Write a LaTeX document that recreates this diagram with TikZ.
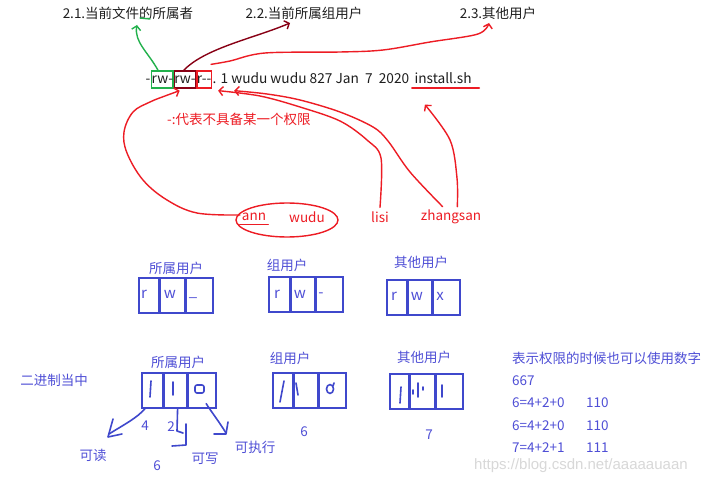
\documentclass[tikz,border=0pt]{standalone}
\usepackage{fontspec}
\newfontfamily\cjk{Noto Sans CJK SC}
\newfontfamily\wmfont{Liberation Sans}
\usetikzlibrary{arrows.meta,calc}
\definecolor{pgreen}{HTML}{22B14C}
\definecolor{pmaroon}{HTML}{880015}
\definecolor{pred}{HTML}{ED1C24}
\definecolor{pblue}{HTML}{3F48CC}
\definecolor{tblue}{HTML}{4F4FD6}
\definecolor{ink}{HTML}{1E1E1E}
\definecolor{wmgray}{HTML}{D8D8D8}
\begin{document}
\begin{tikzpicture}[x=1pt,y=-1pt,
  every node/.style={font=\cjk\fontsize{13.5}{15}\selectfont, inner sep=0pt},
  lbl/.style={text=ink},
  redtxt/.style={text=pred},
  bluetxt/.style={text=tblue, font=\cjk\fontsize{13.5}{16}\selectfont},
  seg/.style={anchor=base west, text=ink, text height=13pt, text depth=4pt, line width=1.3pt,
              font=\cjk\fontsize{13.7}{16}\selectfont},
  pen/.style={line width=1.4pt, line cap=round, line join=round},
  tip/.style={-{Straight Barb[length=4pt,width=9pt,line width=1.4pt]}},
  cell/.style={draw=pblue, line width=1.6pt, anchor=north west, minimum height=35pt},
  letter/.style={text=tblue, font=\cjk\fontsize{15}{17}\selectfont},
  hand/.style={pblue, line width=1.6pt, line cap=round, line join=round},
]
\path[use as bounding box, fill=white] (0,0) rectangle (710,484);

% ---------- top labels ----------
\node[lbl] (l21) at (128,13) {2.1.当前文件的所属者};
\node[lbl] (l22) at (304,13) {2.2.当前所属组用户};
\node[lbl] (l23) at (498,13) {2.3.其他用户};

% ---------- main line ----------
\node[seg] (t1) at (145,84) {-};
\node[seg, draw=pgreen] (t2) at (t1.base east) {rw-};
\node[seg, draw=pmaroon] (t3) at (t2.base east) {rw-};
\node[seg, draw=pred] (t4) at (t3.base east) {r--};
\node[seg] (t5) at (t4.base east) {. 1 wudu wudu 827 Jan\ \ 7\ \ 2020};
\node[seg] (t6) at ($(t5.base east)+(4,0)$) {install.sh};
\draw[pen, pred] ($(t6.base west)+(-2,4)$) -- ($(t6.base east)+(7,4)$);

% green arrow to owner
\coordinate (gs) at ($(t2.north west)+(7,0)$);
\draw[pen, pgreen, tip] (gs) .. controls (148,52) and (134,42) .. (137,25);
\draw[pen, pgreen] (140,18) -- (150,19);

% maroon arrow to group
\coordinate (ms) at ($(t3.north west)+(10,0)$);
\draw[pen, pmaroon, tip] (ms) .. controls (205,48) and (255,38) .. (290,23);

% red arrow to others
\coordinate (rs) at ($(t4.north east)+(-1,-6)$);
\draw[pen, pred, tip] plot[smooth, tension=0.55] coordinates
  {(rs) (230,61) (265,53) (340,52) (383,50) (430,42) (478,34) (489,23)};

% ---------- red note ----------
\node[redtxt, anchor=west] (note) at (167,119) {-:代表不具备某一个权限};

% ---------- users ----------
\node[redtxt] (ann) at (254,217) {ann};
\node[redtxt] (wudu) at (307,217) {wudu};
\node[redtxt] (lisi) at (380,217) {lisi};
\node[redtxt] (zs) at (451,217) {zhangsan};
\draw[pen, pred] ($(ann.base west)+(-2,4)$) -- ($(ann.base east)+(2,4)$);
\draw[pen, pred] (287,220) ellipse [x radius=51, y radius=17];

% loop from ann to group permission
\coordinate (grp) at ($(t3.south west)+(6,2)$);
\draw[pen, pred, tip] plot[smooth, tension=0.6] coordinates
  {(240,215) (197,213) (167,200) (143,180) (127,153) (124,132) (133,112) (150,102) (165,96) (grp)};

% lisi -> others permission
\coordinate (lisitop) at ($(lisi.north)+(0,-4)$);
\coordinate (oth) at ($(t5.south west)+(6,2)$);
\draw[pen, pred, tip] plot[smooth, tension=0.55] coordinates
  {(lisitop) (381,158) (367,140) (340,121) (300,107) (260,96) (oth)};

% zhangsan -> others permission
\coordinate (zstop) at ($(zs.north west)+(22,-3)$);
\coordinate (oth2) at ($(t5.south west)+(22,2)$);
\draw[pen, pred, tip] plot[smooth, tension=0.55] coordinates
  {(zstop) (410,172) (388,141) (373,127) (340,112) (300,100) (267,94) (oth2)};

% zhangsan -> file name
\coordinate (zstop2) at ($(zs.north east)+(-24,-3)$);
\coordinate (fn) at ($(t6.south west)+(11,16)$);
\draw[pen, pred, tip] plot[smooth, tension=0.55] coordinates
  {(zstop2) (457,178) (450,140) (fn)};

% ---------- row 1 boxes ----------
\node[bluetxt] (h1) at (176,268) {所属用户};
\node[cell, minimum width=20pt] (a1) at (138,277) {};
\node[cell, minimum width=24pt] (a2) at (a1.north east) {};
\node[cell, minimum width=27pt] (a3) at (a2.north east) {};
\node[letter] at (144,294) {r};
\node[letter] at (170,294) {w};
\node[letter] at (193,298) {\_};

\node[bluetxt] (h2) at (287,265) {组用户};
\node[cell, minimum width=21pt] (b1) at (268,276) {};
\node[cell, minimum width=23pt] (b2) at (b1.north east) {};
\node[cell, minimum width=27pt] (b3) at (b2.north east) {};
\node[letter] at (277,294) {r};
\node[letter] at (300,294) {w};
\node[letter] at (321,295) {-};

\node[bluetxt] (h3) at (421,262) {其他用户};
\node[cell, minimum width=20pt] (c1) at (386,279) {};
\node[cell, minimum width=23pt] (c2) at (c1.north east) {};
\node[cell, minimum width=27pt] (c3) at (c2.north east) {};
\node[letter] at (394,296) {r};
\node[letter] at (417,296) {w};
\node[letter] at (440,296) {x};

% ---------- row 2 boxes ----------
\node[bluetxt] (bin) at (54,380) {二进制当中};

\node[bluetxt] (h4) at (178,362) {所属用户};
\node[cell, minimum width=21pt] (d1) at (141,372) {};
\node[cell, minimum width=22pt] (d2) at (d1.north east) {};
\node[cell, minimum width=28pt] (d3) at (d2.north east) {};
\draw[hand] (151,381) -- (150,397);
\draw[hand] (173,382) -- (173,395);
\draw[hand, rounded corners=2pt] (195,385) rectangle (204,393);

\node[bluetxt] (h5) at (290,358) {组用户};
\node[cell, minimum width=20pt] (e1) at (272,372) {};
\node[cell, minimum width=23pt] (e2) at (e1.north east) {};
\node[cell, minimum width=27pt] (e3) at (e2.north east) {};
\draw[hand] (284,381) -- (280,402);
\draw[hand] (296,383) -- (298,395);
\draw[hand] (330,389) ellipse [x radius=3.5, y radius=4.5];
\draw[hand] (333,386) -- (334,383);

\node[bluetxt] (h6) at (424,357) {其他用户};
\node[cell, minimum width=19pt] (f1) at (389,373) {};
\node[cell, minimum width=24pt] (f2) at (f1.north east) {};
\node[cell, minimum width=27pt] (f3) at (f2.north east) {};
\draw[hand] (401,387) -- (400,403);
\draw[hand] (413,390) -- (413,394);
\draw[hand] (418,383) -- (418,397);
\draw[hand] (423,387) -- (423,390);
\draw[hand] (442,385) -- (442,397);

% arrows from owner bits
\coordinate (r4) at ($(d1.south west)+(4,0)$);
\draw[hand] (r4) .. controls (137,418) and (125,424) .. (109,434);
\draw[hand] (113,419) -- (108,437) -- (122,434);
\coordinate (w2) at ($(d2.south west)+(14,0)$);
\draw[hand] (w2) -- (177,431) -- (183,433);
\draw[hand] (186,424) -- (186,445) -- (172,446);
\coordinate (x1) at ($(d3.south west)+(19,-5)$);
\draw[hand] (x1) .. controls (210,410) and (218,420) .. (226,433);
\draw[hand] (228,422) -- (226,434) -- (214,434);

\node[bluetxt] (n4) at (145,426) {4};
\node[bluetxt] (n2) at (171,427) {2};
\node[bluetxt] (rd) at (93,455) {可读};
\node[bluetxt] (n6a) at (157,466) {6};
\node[bluetxt] (wr) at (205,459) {可写};
\node[bluetxt] (ex) at (255,447) {可执行};
\node[bluetxt] (n6b) at (304,432) {6};
\node[bluetxt] (n7) at (429,435) {7};

% ---------- right notes ----------
\node[bluetxt, anchor=west] (m1) at (512,358) {表示权限的时候也可以使用数字};
\node[bluetxt, anchor=west] (m2) at (512,381) {667};
\node[bluetxt, anchor=west] (m3) at (512,403) {6=4+2+0};
\node[bluetxt, anchor=west] (m3b) at (586,403) {110};
\node[bluetxt, anchor=west] (m4) at (512,426) {6=4+2+0};
\node[bluetxt, anchor=west] (m4b) at (586,426) {110};
\node[bluetxt, anchor=west] (m5) at (512,448) {7=4+2+1};
\node[bluetxt, anchor=west] (m5b) at (586,448) {111};

% watermark
\node[anchor=west, text=wmgray, font=\wmfont\fontsize{15}{17}\selectfont] (wm) at (474,466) {https://blog.csdn.net/aaaaauaan};
\end{tikzpicture}
\end{document}
